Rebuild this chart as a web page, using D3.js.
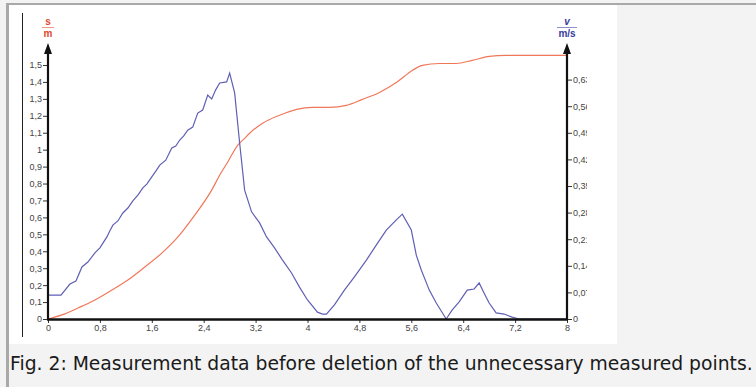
<!DOCTYPE html>
<html>
<head>
<meta charset="utf-8">
<script src="https://cdn.jsdelivr.net/npm/d3@7"></script>
<style>
  html, body { margin: 0; padding: 0; background: #f3f3f3; }
  svg { display: block; }
</style>
</head>
<body>
<svg id="fig" width="756" height="387"></svg>
<script>
// Time axis ticks (s)
const timeTicks = [0, 0.8, 1.6, 2.4, 3.2, 4, 4.8, 5.6, 6.4, 7.2, 8];
const timeTickLabels = ["0", "0,8", "1,6", "2,4", "3,2", "4", "4,8", "5,6", "6,4", "7,2", "8"];

// Distance axis ticks (m)
const distTicks = [0, 0.1, 0.2, 0.3, 0.4, 0.5, 0.6, 0.7, 0.8, 0.9, 1, 1.1, 1.2, 1.3, 1.4, 1.5];
const distTickLabels = ["0", "0,1", "0,2", "0,3", "0,4", "0,5", "0,6", "0,7", "0,8", "0,9", "1", "1,1", "1,2", "1,3", "1,4", "1,5"];

// Velocity axis ticks (m/s)
const velTicks = [0, 0.07, 0.14, 0.21, 0.28, 0.35, 0.42, 0.49, 0.56, 0.63];
const velTickLabels = ["0", "0,07", "0,14", "0,21", "0,28", "0,35", "0,42", "0,49", "0,56", "0,63"];

// Distance s(t), in m
const distT = [0, 0.215, 0.462, 0.723, 0.985, 1.231, 1.492, 1.754, 2.0, 2.262, 2.523, 2.646, 2.769, 2.923, 3.031, 3.108, 3.308, 3.569, 3.831, 4.077, 4.338, 4.6, 4.846, 5.108, 5.369, 5.615, 5.769, 6.031, 6.292, 6.538, 6.8, 7.062, 8.0];
const distS = [0, 0.024, 0.065, 0.112, 0.171, 0.23, 0.307, 0.389, 0.483, 0.613, 0.761, 0.849, 0.926, 1.026, 1.067, 1.097, 1.156, 1.203, 1.238, 1.25, 1.25, 1.262, 1.297, 1.338, 1.397, 1.468, 1.498, 1.509, 1.509, 1.527, 1.551, 1.557, 1.557];

// Velocity v(t), in m/s
const velT = [0, 0.2, 0.338, 0.431, 0.523, 0.615, 0.723, 0.8, 0.908, 0.954, 1.0, 1.077, 1.154, 1.231, 1.308, 1.385, 1.462, 1.523, 1.6, 1.662, 1.723, 1.815, 1.908, 1.969, 2.031, 2.092, 2.154, 2.231, 2.308, 2.385, 2.462, 2.523, 2.585, 2.646, 2.754, 2.8, 2.877, 2.954, 3.031, 3.138, 3.262, 3.369, 3.492, 3.615, 3.754, 3.877, 4.0, 4.154, 4.231, 4.292, 4.415, 4.569, 4.723, 4.908, 5.062, 5.215, 5.369, 5.462, 5.6, 5.677, 5.754, 5.877, 5.985, 6.138, 6.231, 6.338, 6.462, 6.569, 6.646, 6.723, 6.8, 6.908, 7.031, 7.154, 7.262, 8.0];
const velV = [0.063, 0.063, 0.092, 0.1, 0.137, 0.15, 0.174, 0.187, 0.216, 0.232, 0.247, 0.258, 0.279, 0.292, 0.311, 0.326, 0.345, 0.355, 0.374, 0.389, 0.405, 0.418, 0.45, 0.455, 0.471, 0.482, 0.497, 0.505, 0.542, 0.55, 0.589, 0.579, 0.603, 0.621, 0.624, 0.647, 0.595, 0.463, 0.339, 0.282, 0.253, 0.216, 0.187, 0.155, 0.121, 0.084, 0.05, 0.018, 0.013, 0.013, 0.037, 0.076, 0.111, 0.155, 0.195, 0.234, 0.261, 0.276, 0.234, 0.168, 0.129, 0.076, 0.042, 0, 0.024, 0.045, 0.076, 0.079, 0.095, 0.068, 0.042, 0.016, 0.013, 0.005, 0, 0];

const caption = "Fig. 2: Measurement data before deletion of the unnecessary measured points.";

const svg = d3.select("#fig");
const FONT = "'Liberation Sans', Arial, sans-serif";
const RED = "#e2472e";
const BLUE = "#3a3a9c";

// page frame
svg.append("rect").attr("x", 0).attr("y", 0).attr("width", 756).attr("height", 387).attr("fill", "#f3f3f3");
svg.append("rect").attr("x", 6).attr("y", 3).attr("width", 750).attr("height", 2).attr("fill", "#a9a9a9");
svg.append("rect").attr("x", 6).attr("y", 3).attr("width", 3).attr("height", 384).attr("fill", "#a9a9a9");
svg.append("rect").attr("x", 9).attr("y", 5).attr("width", 608).attr("height", 339).attr("fill", "#ffffff");

// chart image region, clipped on the right
svg.append("defs").append("clipPath").attr("id", "imgclip")
  .append("rect").attr("x", 9).attr("y", 5).attr("width", 578).attr("height", 339);
const g = svg.append("g").attr("clip-path", "url(#imgclip)");

const x = d3.scaleLinear().domain([0, 8]).range([48, 567]);
const yL = d3.scaleLinear().domain([0, 1.5]).range([319, 65]);
const yR = d3.scaleLinear().domain([0, 0.7]).range([319, 53]);

// thin frame line on the left
g.append("line").attr("x1", 22.5).attr("x2", 22.5).attr("y1", 13).attr("y2", 337)
  .attr("stroke", "#222").attr("stroke-width", 1);

function styleAxis(sel) {
  sel.select(".domain").remove();
  sel.selectAll(".tick line").attr("stroke", "#333").attr("stroke-width", 1);
  sel.selectAll(".tick text").attr("fill", "#444").attr("font-size", 9).attr("font-family", FONT);
}

// left axis (s)
g.append("g").attr("transform", "translate(48,0)")
  .call(d3.axisLeft(yL).tickValues(distTicks).tickSize(5).tickPadding(1)
    .tickFormat((d, i) => distTickLabels[i]))
  .call(styleAxis);

// right axis (v)
g.append("g").attr("transform", "translate(567,0)")
  .call(d3.axisRight(yR).tickValues(velTicks).tickSize(5).tickPadding(1)
    .tickFormat((d, i) => velTickLabels[i]))
  .call(styleAxis);

// bottom axis (t)
g.append("g").attr("transform", "translate(0,319)")
  .call(d3.axisBottom(x).tickValues(timeTicks).tickSize(4).tickPadding(2)
    .tickFormat((d, i) => timeTickLabels[i]))
  .call(styleAxis);

// data lines
const lineS = d3.line().curve(d3.curveMonotoneX).x((d, i) => x(distT[i])).y(d => yL(d));
const lineV = d3.line().x((d, i) => x(velT[i])).y(d => yR(d));

g.append("path").datum(distS).attr("d", lineS)
  .attr("fill", "none").attr("stroke", "#f0785a").attr("stroke-width", 1.2);
g.append("path").datum(velV).attr("d", lineV)
  .attr("fill", "none").attr("stroke", "#5f5fb4").attr("stroke-width", 1.2);

// axis lines with arrowheads
function vAxisLine(px) {
  g.append("line").attr("x1", px).attr("x2", px).attr("y1", 52).attr("y2", 320)
    .attr("stroke", "#111").attr("stroke-width", 2.2);
  g.append("path").attr("d", `M${px},43 L${px - 4},54 L${px + 4},54 Z`).attr("fill", "#111");
}
g.append("line").attr("x1", x(0) - 1).attr("x2", x(8) + 1).attr("y1", 319.5).attr("y2", 319.5)
  .attr("stroke", "#111").attr("stroke-width", 2.4);
vAxisLine(x(0));
vAxisLine(x(8));

// quantity / unit labels
function unitLabel(px, q, u, color, halfW, italic) {
  g.append("text").attr("x", px).attr("y", 25).attr("text-anchor", "middle")
    .attr("font-family", FONT).attr("font-size", 10).attr("font-weight", "bold")
    .attr("font-style", italic ? "italic" : "normal").attr("fill", color).text(q);
  g.append("line").attr("x1", px - halfW).attr("x2", px + halfW).attr("y1", 27.5).attr("y2", 27.5)
    .attr("stroke", color).attr("stroke-width", 0.8).attr("opacity", 0.7);
  g.append("text").attr("x", px).attr("y", 37).attr("text-anchor", "middle")
    .attr("font-family", FONT).attr("font-size", 10).attr("font-weight", "bold")
    .attr("fill", color).text(u);
}
unitLabel(x(0), "s", "m", RED, 6, false);
unitLabel(x(8), "v", "m/s", BLUE, 10, true);

// caption
const cap = svg.append("text").attr("x", 10).attr("y", 370)
  .attr("font-family", "'DejaVu Sans', sans-serif").attr("font-size", 15)
  .attr("fill", "#1a1a1a").text(caption);
const w = cap.node().getComputedTextLength();
if (w > 0) cap.attr("font-size", 15 * 743 / w);
</script>
</body>
</html>
